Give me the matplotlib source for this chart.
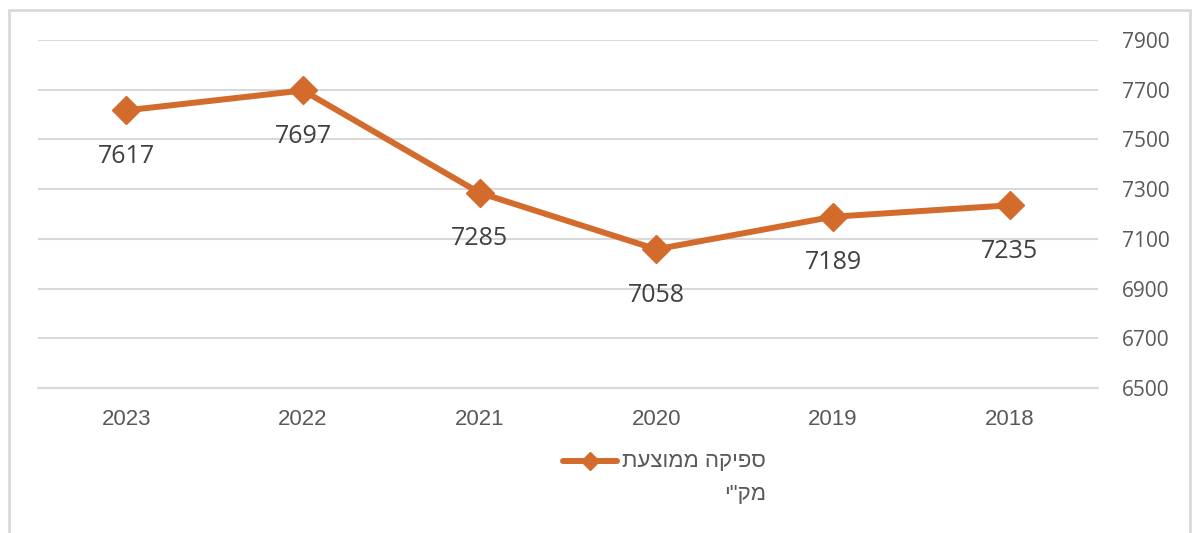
import matplotlib.pyplot as plt
from matplotlib.lines import Line2D
from matplotlib.patches import Rectangle

# average flow per year (m3/day)
years = ["2023", "2022", "2021", "2020", "2019", "2018"]
flow = [7617, 7697, 7285, 7058, 7189, 7235]
yticks = [6500, 6700, 6900, 7100, 7300, 7500, 7700, 7900]
legend_lines = ["ספיקה ממוצעת", 'מק"י']

orange = "#D26B2C"
grid_gray = "#D9D9D9"
text_gray = "#595959"

plt.rcParams["font.family"] = ["Liberation Sans", "DejaVu Sans"]

fig = plt.figure(figsize=(11.94, 5.33), dpi=100)
ax = fig.add_axes([38 / 1194, 1 - 388 / 533, 1060 / 1194, 348 / 533])

x = list(range(len(years)))
ax.plot(x, flow, color=orange, lw=4.3, marker="D", markersize=14,
        solid_capstyle="round", zorder=3)

for xi, v in zip(x, flow):
    ax.annotate(str(v), (xi, v), xytext=(0, -33), textcoords="offset points",
                ha="center", va="center", fontsize=18, color="#404040",
                family="Open Sans")

ax.set_xlim(-0.5, len(years) - 0.5)
ax.set_ylim(6500, 7900)
ax.set_xticks(x)
ax.set_xticklabels(years, fontsize=16)
ax.set_yticks(yticks)
ax.set_yticklabels([str(t) for t in yticks], fontsize=15, family="Open Sans")
ax.yaxis.tick_right()
ax.tick_params(axis="both", length=0, colors=text_gray)
ax.tick_params(axis="x", pad=15)
ax.tick_params(axis="y", pad=17)
ax.grid(axis="y", color=grid_gray, lw=1.5)
ax.set_axisbelow(True)
for side in ["top", "left", "right"]:
    ax.spines[side].set_visible(False)
ax.spines["bottom"].set_color(grid_gray)
ax.spines["bottom"].set_linewidth(1.5)

# legend drawn by hand; Hebrew is laid out right to left, so each line is reversed
ly = 1 - 461 / 533
fig.add_artist(Line2D([563 / 1194, 617 / 1194], [ly, ly], color=orange, lw=4.3,
                      solid_capstyle="round"))
fig.add_artist(Line2D([590 / 1194], [ly], color=orange, marker="D", markersize=9))
legend_text = "\n".join(line[::-1] for line in legend_lines)
fig.text(766 / 1194, 1 - 451 / 533, legend_text, ha="right", va="top",
         multialignment="right", fontsize=16, color=text_gray, linespacing=1.75)

# outer frame of the chart
fig.add_artist(Rectangle((8.5 / 1194, -0.1), (1190 - 8.5) / 1194, 1.1 - 10 / 533,
                         transform=fig.transFigure, fill=False,
                         edgecolor=grid_gray, lw=2))

fig.savefig("out.png", dpi=100)
